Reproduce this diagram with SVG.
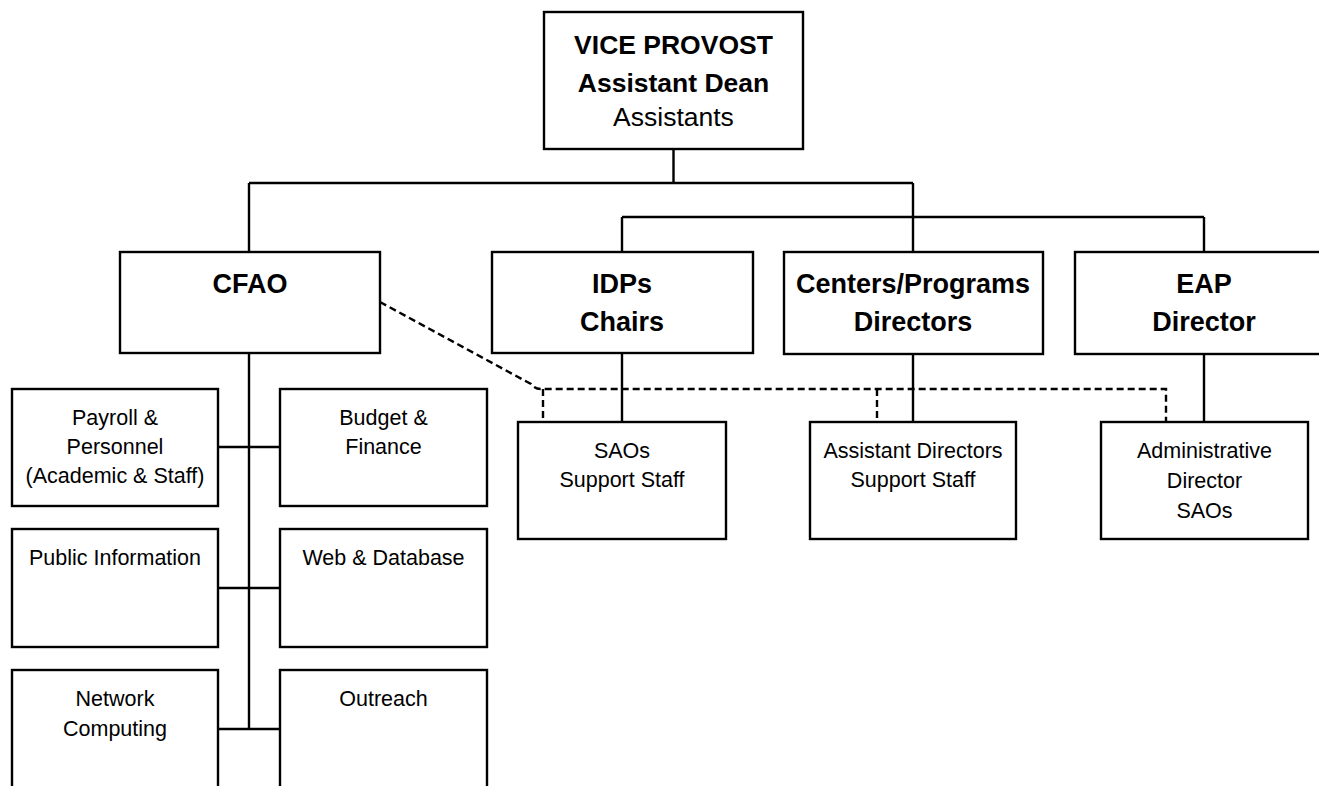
<svg xmlns="http://www.w3.org/2000/svg" width="1319" height="786" viewBox="0 0 1319 786">
<style>
.n{fill:#fff;stroke:#000;stroke-width:2.4}
.c{fill:none;stroke:#000;stroke-width:2.4}
.d{fill:none;stroke:#000;stroke-width:2.4;stroke-dasharray:7 4}
text{font-family:"Liberation Sans",Arial,sans-serif;text-anchor:middle;fill:#000}
.b{font-weight:bold;font-size:27px}
.r{font-size:21.5px}
.rl{font-size:26.5px}
</style>
<rect width="1319" height="786" fill="#fff"/>
<g id="connectors">
<path class="c" d="M673.5 149V183M249 183H913M249 183V252M913 183V252M622 217H1204M622 217V252M1204 217V252"/>
<path class="c" d="M622 353V422M913 354V422M1204 354V422"/>
<path class="c" d="M249 353V729M218 447H280M218 588H280M218 729H280"/>
<path class="d" d="M380 302L531 384Q535 389 541 389H1166V422"/>
<path class="d" d="M543 389V422M877 389V422"/>
</g>
<g id="vp">
<rect class="n" x="544" y="12" width="259" height="137"/>
<text class="b" x="673.5" y="54" style="font-size:26.5px">VICE PROVOST</text>
<text class="b" x="673.5" y="92" style="font-size:26.5px">Assistant Dean</text>
<text class="rl" x="673.5" y="126">Assistants</text>
</g>
<g id="cfao">
<rect class="n" x="120" y="252" width="260" height="101"/>
<text class="b" x="250" y="293">CFAO</text>
</g>
<g id="idps">
<rect class="n" x="492" y="252" width="261" height="101"/>
<text class="b" x="622" y="293">IDPs</text>
<text class="b" x="622" y="331">Chairs</text>
</g>
<g id="centers">
<rect class="n" x="784" y="252" width="259" height="102"/>
<text class="b" x="913" y="293">Centers/Programs</text>
<text class="b" x="913" y="331">Directors</text>
</g>
<g id="eap">
<rect class="n" x="1075" y="252" width="270" height="102"/>
<text class="b" x="1204" y="293">EAP</text>
<text class="b" x="1204" y="331">Director</text>
</g>
<g id="saos">
<rect class="n" x="518" y="422" width="208" height="117"/>
<text class="r" x="622" y="458">SAOs</text>
<text class="r" x="622" y="487">Support Staff</text>
</g>
<g id="asstdir">
<rect class="n" x="810" y="422" width="206" height="117"/>
<text class="r" x="913" y="458">Assistant Directors</text>
<text class="r" x="913" y="487">Support Staff</text>
</g>
<g id="admindir">
<rect class="n" x="1101" y="422" width="207" height="117"/>
<text class="r" x="1204.5" y="458">Administrative</text>
<text class="r" x="1204.5" y="488">Director</text>
<text class="r" x="1204.5" y="518">SAOs</text>
</g>
<g id="payroll">
<rect class="n" x="12" y="389" width="206" height="117"/>
<text class="r" x="115" y="425">Payroll &amp;</text>
<text class="r" x="115" y="454">Personnel</text>
<text class="r" x="115" y="483">(Academic &amp; Staff)</text>
</g>
<g id="budget">
<rect class="n" x="280" y="389" width="207" height="117"/>
<text class="r" x="383.5" y="425">Budget &amp;</text>
<text class="r" x="383.5" y="454">Finance</text>
</g>
<g id="public">
<rect class="n" x="12" y="529" width="206" height="118"/>
<text class="r" x="115" y="565">Public Information</text>
</g>
<g id="web">
<rect class="n" x="280" y="529" width="207" height="118"/>
<text class="r" x="383.5" y="565">Web &amp; Database</text>
</g>
<g id="network">
<rect class="n" x="12" y="670" width="206" height="140"/>
<text class="r" x="115" y="706">Network</text>
<text class="r" x="115" y="736">Computing</text>
</g>
<g id="outreach">
<rect class="n" x="280" y="670" width="207" height="140"/>
<text class="r" x="383.5" y="706">Outreach</text>
</g>
</svg>
